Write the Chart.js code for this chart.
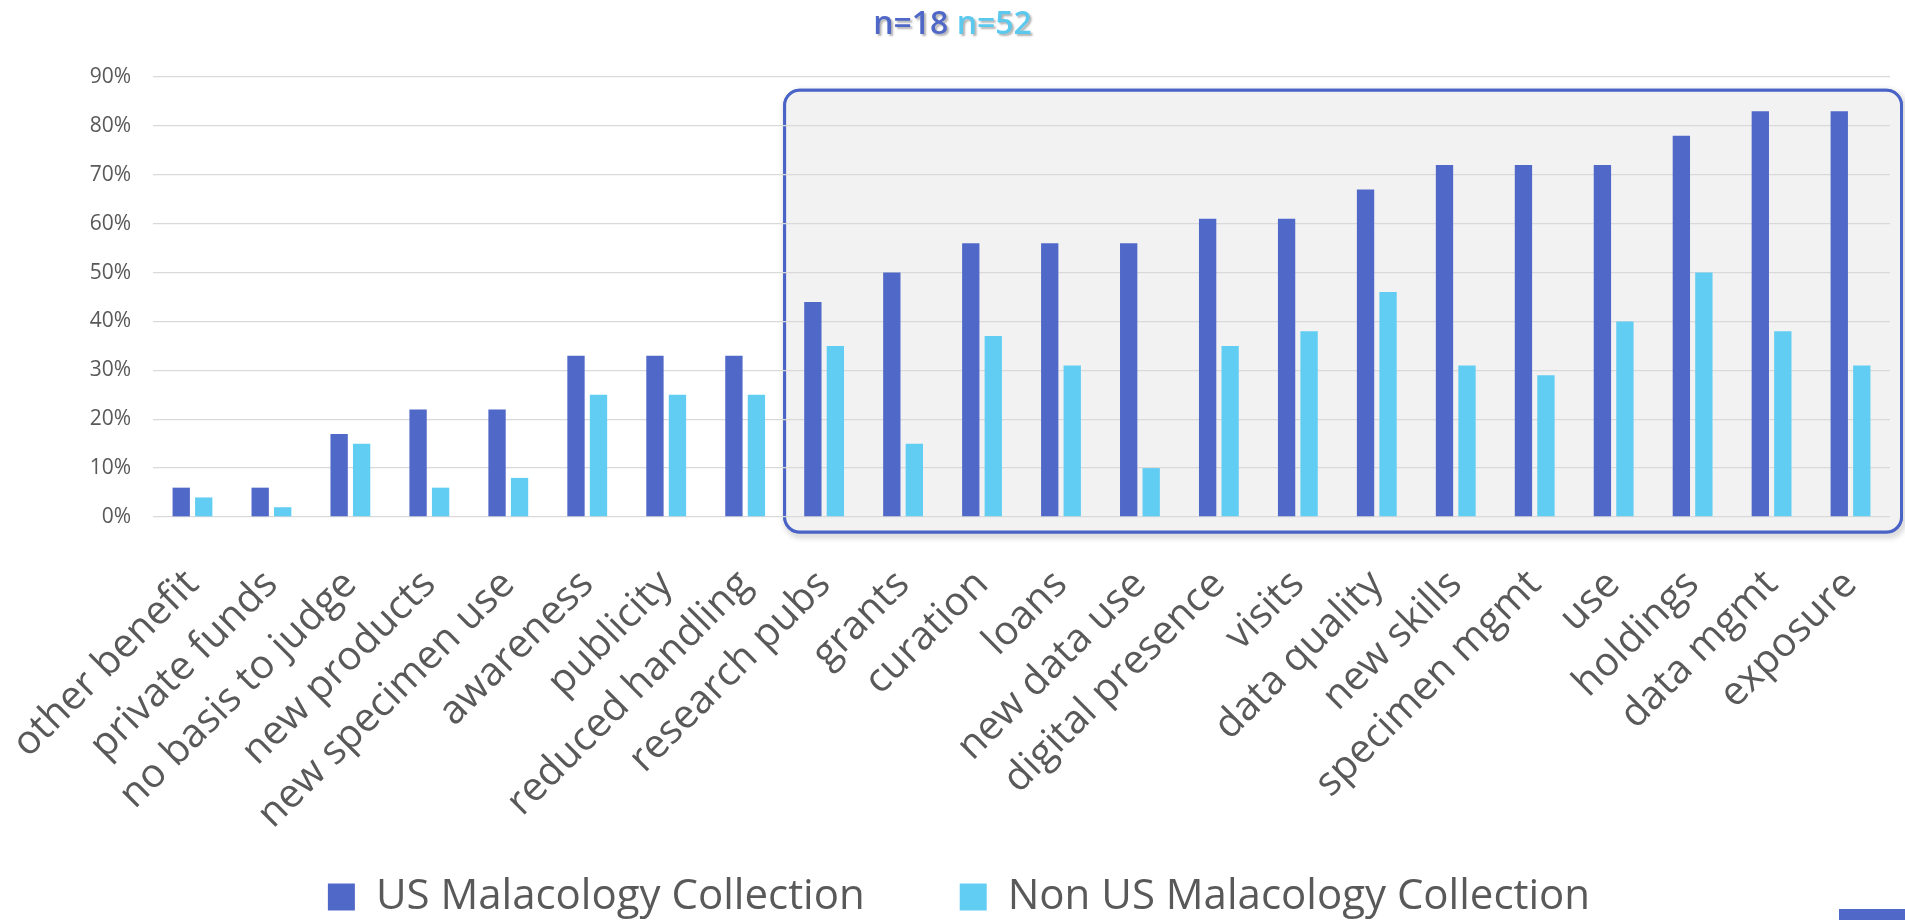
<!DOCTYPE html>
<html>
<head>
<meta charset="utf-8">
<script src="https://cdn.jsdelivr.net/npm/chart.js@4.4.1/dist/chart.umd.min.js"></script>
<style>
  html, body { margin: 0; padding: 0; background: #ffffff; }
  #wrap { position: relative; width: 1905px; height: 920px; overflow: hidden; }
  #title { position: absolute; left: 0; top: 2px; width: 1905px; text-align: center;
           font-family: 'Open Sans', sans-serif; font-weight: 600; font-size: 32px; line-height: 40px;
           text-shadow: 2px 2px 2px rgba(0,0,0,0.30); }
  #title .us { color: #4f67c6; }
  #title .non { color: #5bc8ee; }
  #corner { position: absolute; left: 1839px; top: 909px; width: 66px; height: 11px; background: #5068c8; }
  canvas { position: absolute; left: 0; top: 0; }
</style>
</head>
<body>
<div id="wrap">
  <canvas id="c" width="1905" height="920"></canvas>
  <div id="title"><span class="us">n=18</span> <span class="non">n=52</span></div>
  <div id="corner"></div>
</div>
<script>
// ---- data ----
const categories = [
  'other benefit', 'private funds', 'no basis to judge', 'new products', 'new specimen use',
  'awareness', 'publicity', 'reduced handling', 'research pubs', 'grants', 'curation',
  'loans', 'new data use', 'digital presence', 'visits', 'data quality', 'new skills',
  'specimen mgmt', 'use', 'holdings', 'data mgmt', 'exposure'
];
const usValues    = [6, 6, 17, 22, 22, 33, 33, 33, 44, 50, 56, 56, 56, 61, 61, 67, 72, 72, 72, 78, 83, 83];
const nonUsValues = [4, 2, 15, 6, 8, 25, 25, 25, 35, 15, 37, 31, 10, 35, 38, 46, 31, 29, 40, 50, 38, 31];
const seriesNames = ['US Malacology Collection', 'Non US Malacology Collection'];
const yTicks = [0, 10, 20, 30, 40, 50, 60, 70, 80, 90];
const highlightStart = 'research pubs';

// ---- styling ----
const usColor = '#5068c8';
const nonUsColor = '#61cdf2';
const textColor = '#595959';

Chart.defaults.font.family = "'Open Sans', sans-serif";
Chart.defaults.color = textColor;

const highlightBox = {
  id: 'highlightBox',
  beforeDraw(chart) {
    const { ctx, chartArea, scales } = chart;
    const x = scales.x;
    const i = categories.indexOf(highlightStart);
    const left = (x.getPixelForValue(i - 1) + x.getPixelForValue(i)) / 2;
    const right = chartArea.right + 11.5;
    const top = chartArea.top + 13.3;
    const bottom = chartArea.bottom + 15;
    ctx.save();
    ctx.beginPath();
    ctx.roundRect(left, top, right - left, bottom - top, 15);
    ctx.shadowColor = 'rgba(0,0,0,0.35)';
    ctx.shadowBlur = 6;
    ctx.shadowOffsetX = 2;
    ctx.shadowOffsetY = 3;
    ctx.lineWidth = 3;
    ctx.strokeStyle = '#4a63c6';
    ctx.stroke();
    ctx.shadowColor = 'transparent';
    ctx.fillStyle = '#f2f2f2';
    ctx.fill();
    ctx.stroke();
    ctx.restore();
  }
};

new Chart(document.getElementById('c'), {
  type: 'bar',
  data: {
    labels: categories,
    datasets: [
      { label: seriesNames[0], data: usValues, backgroundColor: usColor, borderWidth: 0,
        categoryPercentage: 0.57, barPercentage: 0.77 },
      { label: seriesNames[1], data: nonUsValues, backgroundColor: nonUsColor, borderWidth: 0,
        categoryPercentage: 0.57, barPercentage: 0.77 }
    ]
  },
  options: {
    responsive: false,
    animation: false,
    devicePixelRatio: 1,
    layout: { padding: { top: 77, left: 28, right: 15, bottom: -8 } },
    plugins: {
      title: { display: false },
      tooltip: { enabled: false },
      legend: {
        position: 'bottom',
        labels: {
          font: { size: 42 },
          color: textColor,
          boxWidth: 27,
          boxHeight: 27,
          padding: 95
        }
      }
    },
    scales: {
      x: {
        grid: { display: false, drawTicks: false },
        border: { display: false },
        ticks: {
          autoSkip: false,
          maxRotation: 45,
          minRotation: 45,
          padding: 44,
          font: { size: 40 },
          color: textColor
        },
        afterFit(scale) {
          scale.height = 264;
          scale.paddingLeft = 0;
          scale.paddingRight = 0;
          // let the rotated labels run below the axis box (into the legend band)
          scale._computeLabelArea = () => ({ top: scale.top, left: 0, bottom: scale.chart.height, right: scale.chart.width });
        }
      },
      y: {
        min: 0,
        max: 90,
        grid: { color: '#d9d9d9', lineWidth: 1.3, drawTicks: false },
        border: { display: false },
        afterBuildTicks(scale) { scale.ticks = yTicks.map(v => ({ value: v })); },
        ticks: {
          padding: 22,
          font: { size: 21 },
          color: textColor,
          callback: v => v + '%'
        },
        afterFit(scale) { scale.width = 125; }
      }
    }
  },
  plugins: [highlightBox]
});
</script>
</body>
</html>
